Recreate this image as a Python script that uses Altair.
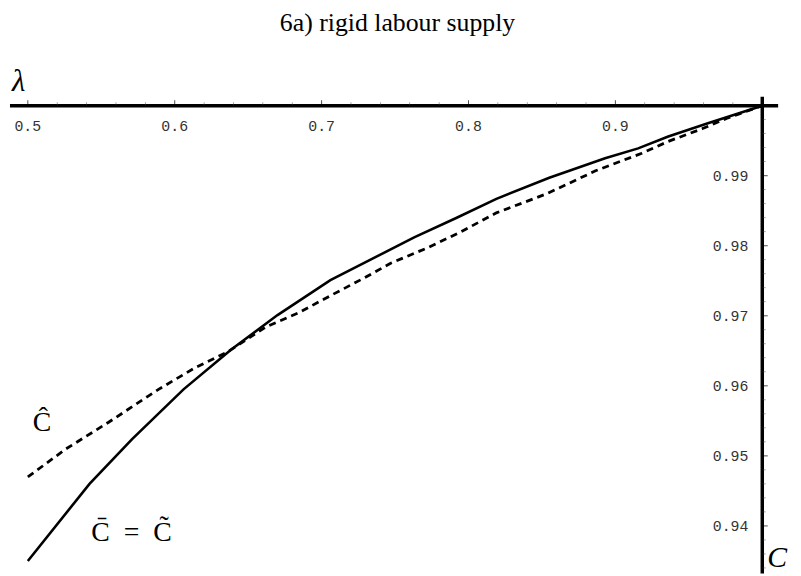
import altair as alt
import pandas as pd

# solid curve: C-bar = C-tilde
solid_lambda = [0.5, 0.542, 0.571, 0.606, 0.6385, 0.670, 0.706, 0.736, 0.763, 0.792, 0.819, 0.855, 0.893, 0.9155, 0.936, 0.963, 1.0]
solid_c = [0.9350, 0.9460, 0.9524, 0.9595, 0.9652, 0.9701, 0.9751, 0.9783, 0.9812, 0.9840, 0.9867, 0.9897, 0.9925, 0.9939, 0.9956, 0.9975, 1.0]

# dashed curve: C-hat
dash_lambda = [0.5, 0.526, 0.555, 0.589, 0.614, 0.6365, 0.662, 0.684, 0.709, 0.729, 0.747, 0.772, 0.794, 0.819, 0.853, 0.8865, 0.918, 0.936, 0.959, 0.976, 1.0]
dash_c = [0.9470, 0.9510, 0.9548, 0.9595, 0.9626, 0.9649, 0.9684, 0.9704, 0.9732, 0.9754, 0.9775, 0.9797, 0.9819, 0.9847, 0.9874, 0.9907, 0.9932, 0.9949, 0.9967, 0.9982, 1.0]

x_major = [0.5, 0.6, 0.7, 0.8, 0.9]
x_major_labels = ["0.5", "0.6", "0.7", "0.8", "0.9"]
x_minor = [0.52, 0.54, 0.56, 0.58, 0.62, 0.64, 0.66, 0.68, 0.72, 0.74, 0.76, 0.78,
           0.82, 0.84, 0.86, 0.88, 0.92, 0.94, 0.96, 0.98]
y_major = [0.94, 0.95, 0.96, 0.97, 0.98, 0.99]
y_major_labels = ["0.94", "0.95", "0.96", "0.97", "0.98", "0.99"]
y_minor = [0.934, 0.936, 0.938, 0.942, 0.944, 0.946, 0.948, 0.952, 0.954, 0.956, 0.958,
           0.962, 0.964, 0.966, 0.968, 0.972, 0.974, 0.976, 0.978, 0.982, 0.984, 0.986,
           0.988, 0.992, 0.994, 0.996, 0.998]
axis_origin = [1.0]

W, H = 792, 568
xs = alt.Scale(domain=[0.486505, 1.020918], nice=False, zero=False)
ys = alt.Scale(domain=[0.933208, 1.013585], nice=False, zero=False)

solid_df = pd.DataFrame({"lam": solid_lambda, "c": solid_c})
dash_df = pd.DataFrame({"lam": dash_lambda, "c": dash_c})
xmaj_df = pd.DataFrame({"v": x_major, "t": x_major_labels, "o": axis_origin * len(x_major)})
xmin_df = pd.DataFrame({"v": x_minor, "o": axis_origin * len(x_minor)})
ymaj_df = pd.DataFrame({"v": y_major, "t": y_major_labels, "o": axis_origin * len(y_major)})
ymin_df = pd.DataFrame({"v": y_minor, "o": axis_origin * len(y_minor)})
orig_df = pd.DataFrame({"o": axis_origin})

X = lambda f: alt.X(f, type="quantitative", scale=xs, axis=None)
Y = lambda f: alt.Y(f, type="quantitative", scale=ys, axis=None)

solid = alt.Chart(solid_df).mark_line(color="black", strokeWidth=2.6).encode(x=X("lam"), y=Y("c"))
dashed = alt.Chart(dash_df).mark_line(color="black", strokeWidth=2.8, strokeDash=[7, 5]).encode(x=X("lam"), y=Y("c"))

xaxis = alt.Chart(orig_df).mark_rule(color="black", strokeWidth=3.5).encode(
    x=alt.value(2), x2=alt.value(777), y=Y("o"))
yaxis = alt.Chart(orig_df).mark_rule(color="black", strokeWidth=3.5).encode(
    y=alt.value(87), y2=alt.value(H), x=X("o"))

xt_major = alt.Chart(xmaj_df).mark_tick(orient="vertical", size=5, thickness=1, yOffset=-3, color="black").encode(
    x=X("v"), y=Y("o"))
xt_minor = alt.Chart(xmin_df).mark_tick(orient="vertical", size=3, thickness=0.7, yOffset=-2, color="#444").encode(
    x=X("v"), y=Y("o"))
yt_major = alt.Chart(ymaj_df).mark_tick(orient="horizontal", size=5, thickness=1, xOffset=3, color="black").encode(
    y=Y("v"), x=X("o"))
yt_minor = alt.Chart(ymin_df).mark_tick(orient="horizontal", size=3, thickness=0.7, xOffset=2, color="#444").encode(
    y=Y("v"), x=X("o"))

mono = "Liberation Mono"
xlab = alt.Chart(xmaj_df).mark_text(font=mono, fontSize=15, color="#333", baseline="middle", dy=21).encode(
    x=X("v"), y=Y("o"), text="t:N")
ylab = alt.Chart(ymaj_df).mark_text(font=mono, fontSize=15, color="#333", baseline="middle", align="right", dx=-14).encode(
    y=Y("v"), x=X("o"), text="t:N")

serif = "Liberation Serif"
def label(txt, x, y, size, italic=False, align="left", baseline="alphabetic"):
    return alt.Chart(orig_df).mark_text(
        text=txt, font=serif, fontSize=size, fontStyle="italic" if italic else "normal",
        align=align, baseline=baseline, color="black"
    ).encode(x=alt.value(x), y=alt.value(y))

title = label("6a) rigid labour supply", 393, 21, 26, align="center")
lam_lab = label("λ", 4, 81, 31, italic=True)
c_lab = label("C", 766, H - 1, 30, italic=True, baseline="bottom")
chat_lab = label("Ĉ", 25, 424, 28)
cbar_lab = label("C̄\u2002=\u2002C̃", 84, 535, 28)

chart = alt.layer(
    solid, dashed, xaxis, yaxis, xt_major, xt_minor, yt_major, yt_minor,
    xlab, ylab, title, lam_lab, c_lab, chat_lab, cbar_lab
).properties(
    width=W, height=H, padding=0, autosize=alt.AutoSizeParams(type="none")
).configure_view(stroke=None)

chart.save("out.html", embed_options={"renderer": "svg", "actions": False})
